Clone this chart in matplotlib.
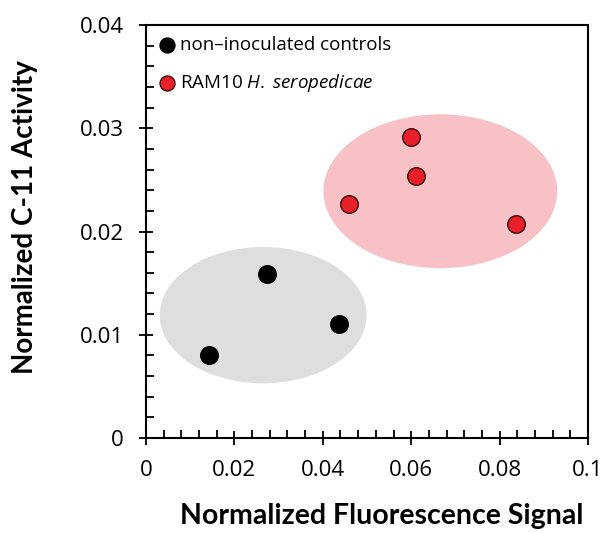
import numpy as np
import matplotlib.pyplot as plt
from matplotlib.patches import Ellipse
from matplotlib.ticker import MultipleLocator

plt.rcParams['font.family'] = ['Open Sans', 'DejaVu Sans']
plt.rcParams['mathtext.fontset'] = 'custom'
plt.rcParams['mathtext.it'] = 'Open Sans:italic'
plt.rcParams['mathtext.rm'] = 'Open Sans'

# data
ctrl_x = [0.0143, 0.0274, 0.0436]
ctrl_y = [0.0080, 0.0159, 0.0110]
ram_x = [0.0600, 0.0611, 0.0459, 0.0838]
ram_y = [0.0292, 0.0254, 0.0227, 0.0207]

# cluster ellipses: centre x, centre y, width, height
ctrl_ell = (0.0265, 0.0119, 0.0468, 0.0132)
ram_ell = (0.0666, 0.0239, 0.0529, 0.0149)

fig = plt.figure(figsize=(6.05, 5.33), dpi=100)
ax = fig.add_axes([0.2413, 0.1782, 0.7306, 0.7749])

ax.add_patch(Ellipse(ctrl_ell[:2], ctrl_ell[2], ctrl_ell[3], facecolor='#dedede', edgecolor='none', zorder=1))
ax.add_patch(Ellipse(ram_ell[:2], ram_ell[2], ram_ell[3], facecolor='#f8c1c5', edgecolor='none', zorder=1))

ax.scatter(ctrl_x, ctrl_y, s=160, color='black', edgecolor='black', linewidth=1, zorder=3,
           label='non\u2013inoculated controls')
ax.scatter(ram_x, ram_y, s=160, color='#e8202a', edgecolor='#3a0a0a', linewidth=1, zorder=3,
           label='RAM10 $\\mathit{H.}$ $\\mathit{seropedicae}$')

ax.set_xlim(0, 0.1)
ax.set_ylim(0, 0.04)
ax.xaxis.set_minor_locator(MultipleLocator(0.004))
ax.yaxis.set_minor_locator(MultipleLocator(0.002))
ax.set_xticks([0, 0.02, 0.04, 0.06, 0.08, 0.1])
ax.set_xticklabels(['0', '0.02', '0.04', '0.06', '0.08', '0.1'])
ax.set_yticks([0, 0.01, 0.02, 0.03, 0.04])
ax.set_yticklabels(['0', '0.01', '0.02', '0.03', '0.04'])

ax.tick_params(which='major', direction='inout', length=10, width=1.3, labelsize=16, pad=11)
ax.tick_params(which='minor', direction='in', length=5.5, width=1.3)
for sp in ax.spines.values():
    sp.set_linewidth(1.5)

ax.set_xlabel('Normalized Fluorescence Signal', fontsize=20.5, fontweight='bold', family='Lato')
ax.set_ylabel('Normalized C-11 Activity', fontsize=20, fontweight='bold', family='Lato')
ax.xaxis.set_label_coords(0.534, -0.158)
ax.yaxis.set_label_coords(-0.245, 0.535)

ax.legend(loc='upper left', frameon=False, fontsize=13.5, handletextpad=0.2,
          labelspacing=0.95, borderaxespad=0.25, handlelength=1.0, markerscale=0.85,
          borderpad=0.35)

fig.savefig('out.png', dpi=100)
